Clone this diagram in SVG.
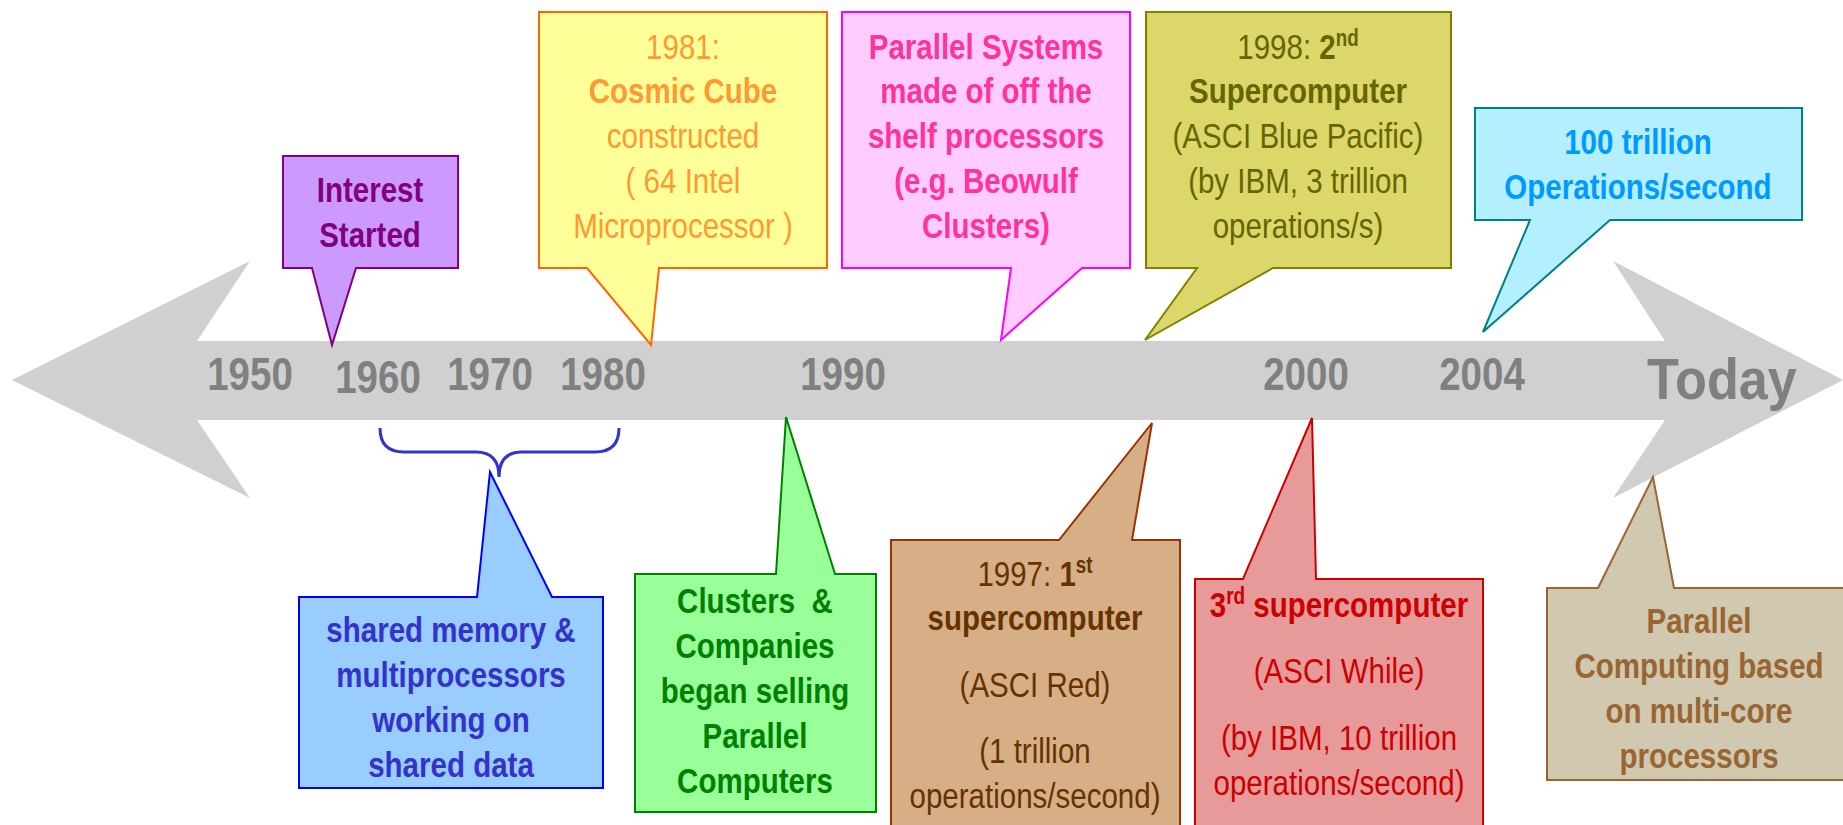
<svg xmlns="http://www.w3.org/2000/svg" width="1843" height="825" viewBox="0 0 1843 825">
<style>
text{font-family:"Liberation Sans Narrow","Arial Narrow","Liberation Sans",sans-serif;font-size:36px;text-anchor:middle}
.b{font-weight:bold}
.yr{font-weight:bold;fill:#808080;font-size:47px}
.sup{font-size:23px}
.box{stroke-width:2}
</style>
<rect width="1843" height="825" fill="#FFFFFF"/>
<g id="timeline">
<polygon points="12,380 250,261 197,341 1665,341 1613,261 1843,380 1613,498 1665,420 197,420 250,498" fill="#D0D0D0"/>
<text class="yr" x="250" y="390" transform="matrix(0.82,0,0,1,45,0)">1950</text>
<text class="yr" x="378" y="393" transform="matrix(0.82,0,0,1,68.04,0)">1960</text>
<text class="yr" x="490" y="390" transform="matrix(0.82,0,0,1,88.2,0)">1970</text>
<text class="yr" x="603" y="390" transform="matrix(0.82,0,0,1,108.54,0)">1980</text>
<text class="yr" x="843" y="390" transform="matrix(0.82,0,0,1,151.74,0)">1990</text>
<text class="yr" x="1306" y="390" transform="matrix(0.82,0,0,1,235.08,0)">2000</text>
<text class="yr" x="1482" y="390" transform="matrix(0.82,0,0,1,266.76,0)">2004</text>
<text class="yr" x="1722" y="399" style="font-size:58px" transform="matrix(0.9,0,0,1,172.2,0)">Today</text>
</g>
<g id="connectors">
<path d="M380,428 Q380,452 404,452 H476 Q499,452 499,477 Q499,452 522,452 H595 Q619,452 619,428" fill="none" stroke="#3333CC" stroke-width="3"/>
</g>
<g id="interest">
<path class="box" d="M283,156 H458 V268 H356 L332,345 L312,268 H283 Z" fill="#CC99FF" stroke="#800080"/>
<text class="b" fill="#800080" transform="matrix(0.82,0,0,1,66.6,0)"><tspan x="370" y="202">Interest</tspan><tspan x="370" y="247">Started</tspan></text>
</g>
<g id="cosmic">
<path class="box" d="M539,12 H827 V268 H659 L651,345 L587,268 H539 Z" fill="#FFFF99" stroke="#FF6600"/>
<text fill="#FF9933" transform="matrix(0.82,0,0,1,122.94,0)"><tspan x="683" y="59">1981:</tspan><tspan class="b" x="683" y="103">Cosmic Cube</tspan><tspan x="683" y="148">constructed</tspan><tspan x="683" y="193">( 64 Intel</tspan><tspan x="683" y="238">Microprocessor )</tspan></text>
</g>
<g id="parallel-systems">
<path class="box" d="M842,12 H1130 V268 H1082 L1001,340 L1011,268 H842 Z" fill="#FFCCFF" stroke="#FF00FF"/>
<text class="b" fill="#FF3399" transform="matrix(0.82,0,0,1,177.48,0)"><tspan x="986" y="59">Parallel Systems</tspan><tspan x="986" y="103">made of off the</tspan><tspan x="986" y="148">shelf processors</tspan><tspan x="986" y="193">(e.g. Beowulf</tspan><tspan x="986" y="238">Clusters)</tspan></text>
</g>
<g id="second-super">
<path class="box" d="M1146,12 H1451 V268 H1273 L1145,340 L1197,268 H1146 Z" fill="#DBD76A" stroke="#808000"/>
<text fill="#666600" transform="matrix(0.82,0,0,1,233.64,0)"><tspan x="1298" y="59">1998: <tspan class="b">2</tspan><tspan class="b sup" dy="-13">nd</tspan></tspan><tspan class="b" x="1298" y="103">Supercomputer</tspan><tspan x="1298" y="148">(ASCI Blue Pacific)</tspan><tspan x="1298" y="193">(by IBM, 3 trillion</tspan><tspan x="1298" y="238">operations/s)</tspan></text>
</g>
<g id="hundred-trillion">
<path class="box" d="M1475,108 H1802 V220 H1610 L1483,332 L1530,220 H1475 Z" fill="#B3EFFF" stroke="#008080"/>
<text class="b" fill="#0099FF" transform="matrix(0.82,0,0,1,294.84,0)"><tspan x="1638" y="154">100 trillion</tspan><tspan x="1638" y="199">Operations/second</tspan></text>
</g>
<g id="shared-memory">
<path class="box" d="M299,597 H477 L490,472 L552,597 H603 V788 H299 Z" fill="#99CCFF" stroke="#0000FF"/>
<text class="b" fill="#3333CC" transform="matrix(0.82,0,0,1,81.18,0)"><tspan x="451" y="642">shared memory &amp;</tspan><tspan x="451" y="687">multiprocessors</tspan><tspan x="451" y="732">working on</tspan><tspan x="451" y="777">shared data</tspan></text>
</g>
<g id="clusters">
<path class="box" d="M635,574 H776 L786,417 L835,574 H876 V812 H635 Z" fill="#99FF99" stroke="#008000"/>
<text class="b" fill="#008000" xml:space="preserve" transform="matrix(0.82,0,0,1,135.9,0)"><tspan x="755" y="613">Clusters  &amp;</tspan><tspan x="755" y="658">Companies</tspan><tspan x="755" y="703">began selling</tspan><tspan x="755" y="748">Parallel</tspan><tspan x="755" y="793">Computers</tspan></text>
</g>
<g id="first-super">
<path class="box" d="M891,540 H1059 L1152,423 L1132,540 H1180 V830 H891 Z" fill="#D6AF86" stroke="#993300"/>
<text fill="#663300" transform="matrix(0.82,0,0,1,186.3,0)"><tspan x="1035" y="586">1997: <tspan class="b">1</tspan><tspan class="b sup" dy="-13">st</tspan></tspan><tspan class="b" x="1035" y="630">supercomputer</tspan><tspan x="1035" y="697">(ASCI Red)</tspan><tspan x="1035" y="763">(1 trillion</tspan><tspan x="1035" y="808">operations/second)</tspan></text>
</g>
<g id="third-super">
<path class="box" d="M1195,579 H1243 L1312,418 L1316,579 H1483 V830 H1195 Z" fill="#E69A9A" stroke="#CC0000"/>
<text fill="#CC0000" transform="matrix(0.82,0,0,1,241.02,0)"><tspan class="b" x="1339" y="617">3<tspan class="sup" dy="-13">rd</tspan><tspan dy="13"> supercomputer</tspan></tspan><tspan x="1339" y="683">(ASCI While)</tspan><tspan x="1339" y="750">(by IBM, 10 trillion</tspan><tspan x="1339" y="795">operations/second)</tspan></text>
</g>
<g id="multicore">
<path class="box" d="M1547,588 H1598 L1653,477 L1674,588 H1850 V780 H1547 Z" fill="#D0C8AF" stroke="#996633"/>
<text class="b" fill="#996633" transform="matrix(0.82,0,0,1,305.82,0)"><tspan x="1699" y="633">Parallel</tspan><tspan x="1699" y="678">Computing based</tspan><tspan x="1699" y="723">on multi-core</tspan><tspan x="1699" y="768">processors</tspan></text>
</g>
</svg>
